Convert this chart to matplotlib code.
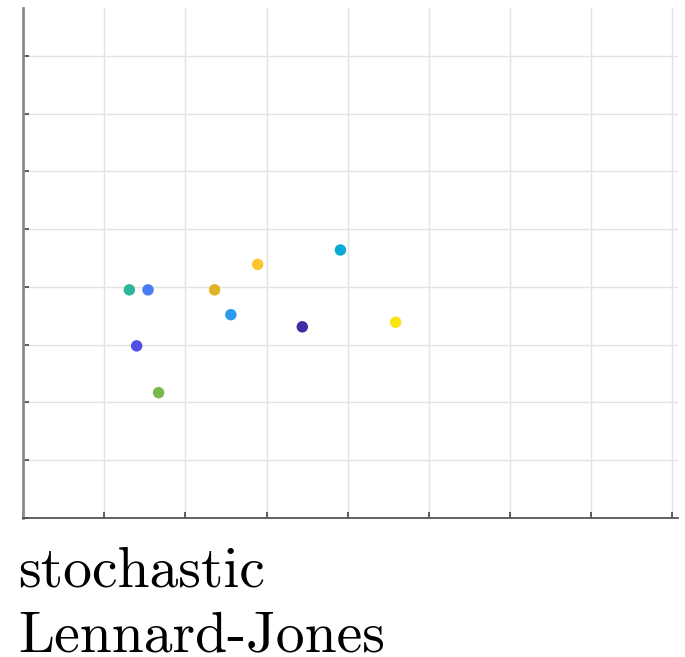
import numpy as np
import matplotlib.pyplot as plt

# point positions and colours (parula-ish)
x_vals = [1.31, 1.54, 1.40, 1.67, 2.36, 2.56, 2.89, 3.91, 3.44, 4.59]
y_vals = [3.95, 3.95, 2.98, 2.17, 3.95, 3.52, 4.39, 4.64, 3.31, 3.39]
colors = ['#2bb59a', '#4a7bf5', '#4d4fe6', '#78b84a', '#e0b324',
          '#2a9bef', '#fbc431', '#08aad6', '#3d2fa3', '#f9e512']

label_lines = ['stochastic', 'Lennard-Jones']

fig = plt.figure(figsize=(6.85, 6.57), dpi=100)
ax = fig.add_axes([0.0336, 0.2116, 0.9564, 0.7762])

ax.scatter(x_vals, y_vals, s=68, c=colors, edgecolors='none', zorder=3)

ax.set_xlim(0, 8.07)
ax.set_ylim(0, 8.83)
ax.set_xticks(np.arange(0, 9))
ax.set_yticks(np.arange(0, 9))
ax.set_xticklabels([])
ax.set_yticklabels([])
ax.grid(True, color='#e3e3e3', linewidth=1.0)
ax.set_axisbelow(True)

for side in ['top', 'right']:
    ax.spines[side].set_visible(False)
ax.spines['left'].set_color('#8c8c8c')
ax.spines['left'].set_linewidth(2.0)
ax.spines['bottom'].set_color('#555555')
ax.spines['bottom'].set_linewidth(1.3)
ax.tick_params(axis='both', direction='in', length=4, width=1.2, color='#444444')

fig.text(0.026, 0.107, label_lines[0], fontfamily='cmr10', fontsize=41.5,
         va='baseline', ha='left')
fig.text(0.026, 0.008, label_lines[1], fontfamily='cmr10', fontsize=41.5,
         va='baseline', ha='left')

plt.savefig('out.png', dpi=100)
